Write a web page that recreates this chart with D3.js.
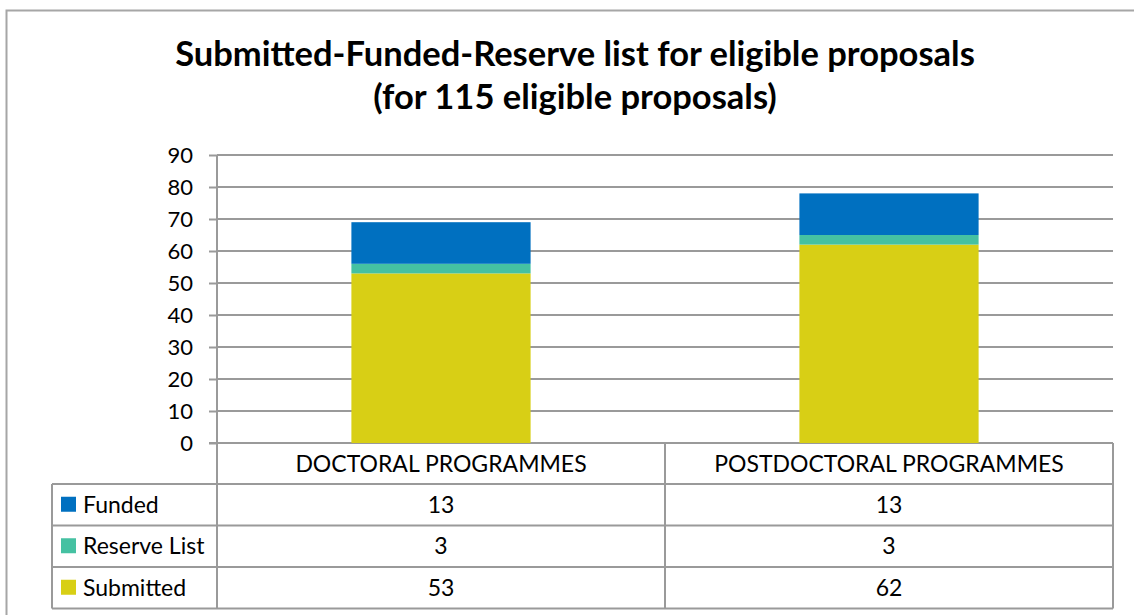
<!DOCTYPE html>
<html>
<head>
<meta charset="utf-8">
<script src="https://cdn.jsdelivr.net/npm/d3@7"></script>
<style>
  html, body { margin: 0; padding: 0; background: #fff; }
  svg { display: block; font-family: Lato, "Open Sans", sans-serif; }
</style>
</head>
<body>
<svg id="chart" width="1134" height="615"></svg>
<script>
// ---- data ----
const categories = ["DOCTORAL PROGRAMMES", "POSTDOCTORAL PROGRAMMES"];
const seriesNames = ["Funded", "Reserve List", "Submitted"];   // table order (top to bottom)
const funded = [13, 13];
const reserveList = [3, 3];
const submitted = [53, 62];
const yTicks = [0, 10, 20, 30, 40, 50, 60, 70, 80, 90];
const titleLines = ["Submitted-Funded-Reserve list for eligible proposals", "(for 115 eligible proposals)"];

const colors = { "Funded": "#0070C0", "Reserve List": "#45C1A2", "Submitted": "#D8CF15" };
const seriesValues = { "Funded": funded, "Reserve List": reserveList, "Submitted": submitted };

// ---- layout ----
const W = 1134, H = 615;
const plotLeft = 217, plotRight = 1113, plotTop = 155, plotBottom = 443;
const tableLeft = 52, headerBottom = 484, rowH = 41.5;
const gridColor = "#9a9a9a";

const svg = d3.select("#chart");

// outer border
svg.append("rect").attr("x", 6.5).attr("y", 10.5).attr("width", 1140).attr("height", 620)
  .attr("fill", "none").attr("stroke", "#a6a6a6").attr("stroke-width", 2);

// title
svg.append("g").selectAll("text").data(titleLines).join("text")
  .attr("x", 575).attr("y", (d, i) => 66 + i * 43)
  .attr("text-anchor", "middle").attr("font-weight", "bold").attr("font-size", 34.5)
  .attr("fill", "#000").text(d => d);

// scales
const x = d3.scaleBand().domain(categories).range([plotLeft, plotRight]).paddingInner(0).paddingOuter(0);
const y = d3.scaleLinear().domain([0, 90]).range([plotBottom, plotTop]);
const barW = x.bandwidth() * 0.4;

// gridlines
svg.append("g").selectAll("line").data(yTicks).join("line")
  .attr("x1", d => d === 0 ? plotLeft - 8 : plotLeft).attr("x2", plotRight)
  .attr("y1", d => y(d)).attr("y2", d => y(d))
  .attr("stroke", gridColor).attr("stroke-width", 2);

// y axis
const yAxis = d3.axisLeft(y).tickValues(yTicks).tickSize(8).tickPadding(16).tickFormat(d3.format("d"));
const yg = svg.append("g").attr("transform", `translate(${plotLeft},0)`).call(yAxis);
yg.select(".domain").remove();
yg.selectAll(".tick line").attr("stroke", gridColor).attr("stroke-width", 2);
yg.selectAll(".tick text").attr("font-size", 22).attr("fill", "#000")
  .attr("font-family", "Lato, 'Open Sans', sans-serif");

// stacked bars
const stackData = categories.map((c, i) => ({ cat: c, "Submitted": submitted[i], "Reserve List": reserveList[i], "Funded": funded[i] }));
const stack = d3.stack().keys(["Submitted", "Reserve List", "Funded"]);
const layers = stack(stackData);
svg.append("g").selectAll("g").data(layers).join("g")
  .attr("fill", d => colors[d.key])
  .selectAll("rect").data(d => d).join("rect")
  .attr("x", d => x(d.data.cat) + (x.bandwidth() - barW) / 2)
  .attr("width", barW)
  .attr("y", d => y(d[1]))
  .attr("height", d => y(d[0]) - y(d[1]));

// y axis line (extends through table)
const tableBottom = headerBottom + rowH * seriesNames.length;
svg.append("line").attr("x1", plotLeft).attr("x2", plotLeft).attr("y1", plotTop).attr("y2", tableBottom)
  .attr("stroke", gridColor).attr("stroke-width", 2);

// data table
const tg = svg.append("g");
categories.forEach(c => {
  tg.append("line").attr("x1", x(c) + x.bandwidth()).attr("x2", x(c) + x.bandwidth())
    .attr("y1", plotBottom).attr("y2", tableBottom).attr("stroke", gridColor).attr("stroke-width", 2);
});
tg.append("line").attr("x1", tableLeft).attr("x2", tableLeft)
  .attr("y1", headerBottom).attr("y2", tableBottom).attr("stroke", gridColor).attr("stroke-width", 2);
d3.range(seriesNames.length + 1).forEach(i => {
  tg.append("line").attr("x1", tableLeft).attr("x2", plotRight)
    .attr("y1", headerBottom + i * rowH).attr("y2", headerBottom + i * rowH)
    .attr("stroke", gridColor).attr("stroke-width", 2);
});
tg.selectAll("text.hdr").data(categories).join("text").attr("class", "hdr")
  .attr("x", d => x(d) + x.bandwidth() / 2).attr("y", 472)
  .attr("text-anchor", "middle").attr("font-size", 23).attr("fill", "#000").text(d => d);
seriesNames.forEach((s, r) => {
  const rowMid = headerBottom + r * rowH + rowH / 2;
  tg.append("rect").attr("x", 61).attr("y", rowMid - 8).attr("width", 15).attr("height", 15)
    .attr("fill", colors[s]);
  tg.append("text").attr("x", 83).attr("y", rowMid + 8).attr("font-size", 23).attr("fill", "#000").text(s);
  tg.selectAll(null).data(seriesValues[s]).join("text")
    .attr("x", (d, i) => x(categories[i]) + x.bandwidth() / 2).attr("y", rowMid + 8)
    .attr("text-anchor", "middle").attr("font-size", 23).attr("fill", "#000").text(d => d);
});
</script>
</body>
</html>
